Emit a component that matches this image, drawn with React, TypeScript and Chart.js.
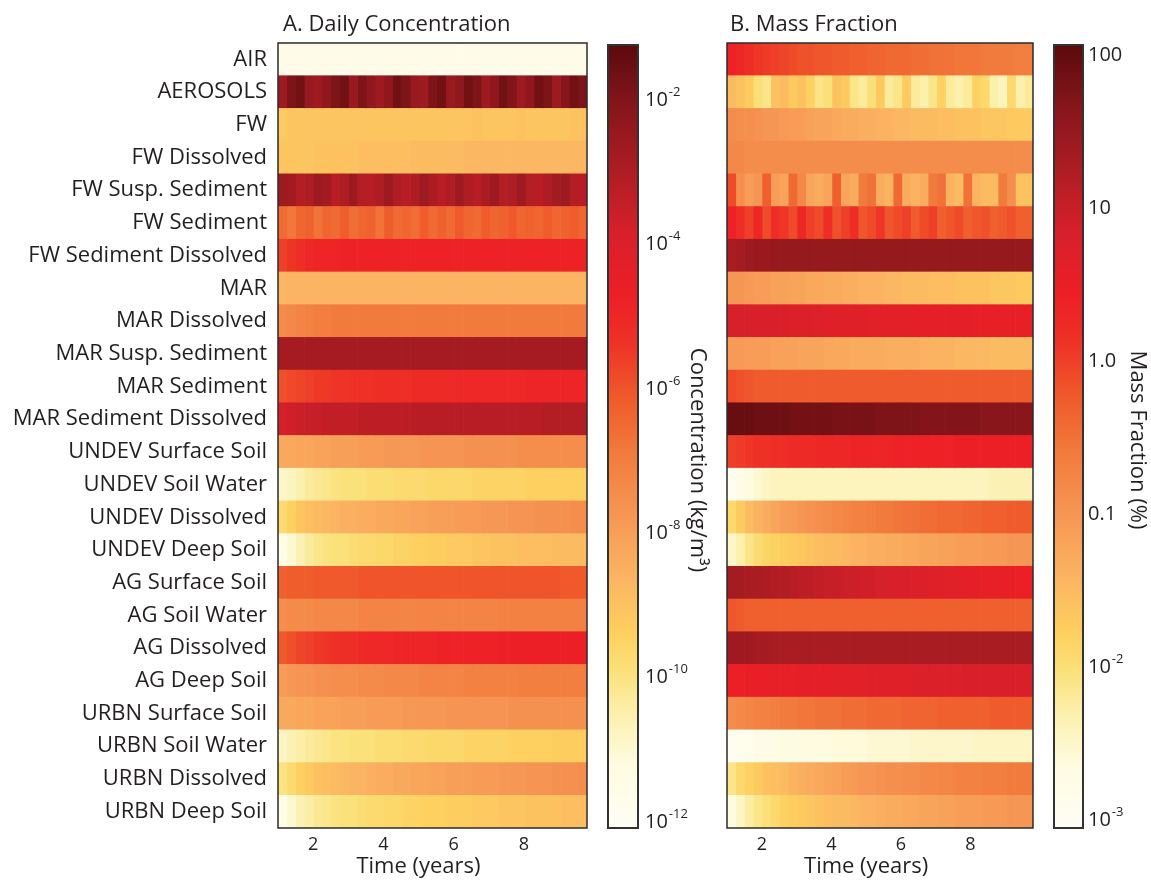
import React, { useEffect, useRef } from 'react';
import { Chart, registerables } from 'chart.js';
Chart.register(...registerables);

const FONT = "'Open Sans', 'DejaVu Sans', sans-serif";
const INK = '#231f20';

const compartments = [
  'AIR', 'AEROSOLS', 'FW', 'FW Dissolved', 'FW Susp. Sediment', 'FW Sediment',
  'FW Sediment Dissolved', 'MAR', 'MAR Dissolved', 'MAR Susp. Sediment', 'MAR Sediment',
  'MAR Sediment Dissolved', 'UNDEV Surface Soil', 'UNDEV Soil Water', 'UNDEV Dissolved',
  'UNDEV Deep Soil', 'AG Surface Soil', 'AG Soil Water', 'AG Dissolved', 'AG Deep Soil',
  'URBN Surface Soil', 'URBN Soil Water', 'URBN Dissolved', 'URBN Deep Soil',
];

const timeStart = 1.0;
const timeEnd = 9.8;
const timeTicks = [2, 4, 6, 8];

// ---- A. Daily concentration, log10(kg/m3), one value per time column ----
const concAir = [
  -11.6, -11.6, -11.6, -11.6, -11.6,
  -11.6, -11.6, -11.6, -11.6, -11.6,
  -11.6, -11.6, -11.6, -11.6, -11.6,
  -11.6, -11.6, -11.6, -11.6, -11.6,
  -11.6, -11.6, -11.6, -11.6, -11.6,
  -11.6, -11.6, -11.6, -11.6, -11.6,
  -11.6, -11.6, -11.6, -11.6, -11.6,
];
const concAerosols = [
  -2.6, -1.9, -1.7, -2.5, -2.6,
  -2.3, -1.9, -1.7, -2.5, -1.9,
  -2.3, -2.6, -2.3, -1.7, -1.9,
  -2.5, -2.6, -1.9, -1.7, -2.5,
  -2.3, -1.7, -1.9, -2.6, -2.3,
  -1.7, -2.0, -2.6, -2.3, -1.7,
  -1.9, -2.6, -2.1, -1.7, -1.9,
];
const concFw = [
  -9.2, -9.1, -9.1, -9.1, -9.1,
  -9.1, -9.1, -9.1, -9.1, -9.1,
  -9.1, -9.1, -9.1, -9.1, -9.1,
  -9.1, -9.1, -9.1, -9.1, -9.1,
  -9.1, -9.1, -9.0, -9.1, -9.1,
  -9.1, -9.1, -9.0, -9.1, -9.1,
  -9.1, -9.1, -9.1, -9.0, -9.0,
];
const concFwDissolved = [
  -9.1, -9.1, -9.1, -9.1, -9.0,
  -9.0, -9.0, -9.0, -9.0, -8.9,
  -8.9, -8.9, -8.9, -8.9, -8.9,
  -8.8, -8.8, -8.8, -8.8, -8.8,
  -8.8, -8.7, -8.7, -8.7, -8.7,
  -8.7, -8.7, -8.7, -8.7, -8.7,
  -8.7, -8.7, -8.7, -8.7, -8.7,
];
const concFwSuspSed = [
  -2.6, -2.7, -3.1, -3.0, -2.6,
  -2.7, -3.2, -3.0, -2.6, -3.1,
  -3.2, -3.0, -2.6, -3.0, -3.2,
  -3.0, -2.6, -2.9, -3.2, -3.0,
  -2.6, -3.0, -3.2, -2.9, -2.6,
  -3.1, -3.0, -2.6, -3.1, -3.2,
  -3.0, -2.7, -2.6, -3.1, -3.2,
];
const concFwSed = [
  -6.5, -6.8, -6.4, -6.3, -6.7,
  -6.4, -6.5, -6.2, -6.6, -6.4,
  -6.3, -6.7, -6.2, -6.5, -6.4,
  -6.6, -6.2, -6.5, -6.3, -6.5,
  -6.1, -6.4, -6.5, -6.2, -6.4,
  -6.3, -6.1, -6.4, -6.3, -6.4,
  -6.2, -6.4, -6.3, -6.2, -6.4,
];
const concFwSedDissolved = [
  -5.6, -5.4, -5.2, -5.0, -4.9,
  -4.9, -4.9, -4.8, -4.8, -4.8,
  -4.8, -4.8, -4.8, -4.8, -4.8,
  -4.8, -4.8, -4.8, -4.8, -4.8,
  -4.8, -4.8, -4.8, -4.8, -4.8,
  -4.8, -4.8, -4.8, -4.8, -4.8,
  -4.8, -4.8, -4.8, -4.8, -4.8,
];
const concMar = [
  -8.7, -8.6, -8.6, -8.6, -8.6,
  -8.6, -8.6, -8.6, -8.6, -8.6,
  -8.6, -8.6, -8.6, -8.6, -8.6,
  -8.6, -8.6, -8.6, -8.6, -8.6,
  -8.6, -8.6, -8.6, -8.6, -8.6,
  -8.6, -8.6, -8.6, -8.6, -8.6,
  -8.6, -8.6, -8.6, -8.6, -8.6,
];
const concMarDissolved = [
  -7.4, -7.3, -7.2, -7.1, -7.0,
  -7.0, -6.9, -6.9, -6.9, -6.9,
  -6.9, -6.9, -6.9, -6.9, -6.9,
  -6.9, -6.9, -6.9, -6.9, -6.9,
  -6.9, -6.9, -6.9, -6.9, -6.9,
  -6.9, -6.9, -6.9, -6.9, -6.9,
  -6.9, -6.9, -6.9, -6.9, -6.9,
];
const concMarSuspSed = [
  -2.8, -2.8, -2.8, -2.8, -2.8,
  -2.8, -2.8, -2.8, -2.8, -2.8,
  -2.8, -2.8, -2.8, -2.8, -2.8,
  -2.8, -2.8, -2.8, -2.8, -2.8,
  -2.8, -2.8, -2.8, -2.8, -2.8,
  -2.8, -2.8, -2.8, -2.8, -2.8,
  -2.8, -2.8, -2.8, -2.8, -2.8,
];
const concMarSed = [
  -5.9, -5.8, -5.7, -5.6, -5.5,
  -5.5, -5.4, -5.4, -5.3, -5.3,
  -5.3, -5.2, -5.2, -5.2, -5.2,
  -5.1, -5.1, -5.1, -5.1, -5.1,
  -5.0, -5.0, -5.0, -5.0, -5.0,
  -5.0, -5.0, -5.0, -4.9, -4.9,
  -4.9, -4.9, -4.9, -4.9, -4.9,
];
const concMarSedDissolved = [
  -3.8, -3.7, -3.6, -3.5, -3.5,
  -3.4, -3.4, -3.4, -3.4, -3.3,
  -3.3, -3.3, -3.3, -3.3, -3.3,
  -3.2, -3.2, -3.2, -3.2, -3.2,
  -3.2, -3.2, -3.2, -3.2, -3.2,
  -3.2, -3.2, -3.2, -3.2, -3.2,
  -3.1, -3.1, -3.1, -3.1, -3.1,
];
const concUndevSurface = [
  -8.3, -8.3, -8.2, -8.2, -8.1,
  -8.1, -8.0, -8.0, -8.0, -7.9,
  -7.9, -7.9, -7.8, -7.8, -7.8,
  -7.8, -7.7, -7.7, -7.7, -7.7,
  -7.7, -7.6, -7.6, -7.6, -7.6,
  -7.6, -7.6, -7.5, -7.5, -7.5,
  -7.5, -7.5, -7.5, -7.5, -7.5,
];
const concUndevSoilWater = [
  -10.9, -10.7, -10.5, -10.3, -10.2,
  -10.1, -10.0, -9.9, -9.9, -9.9,
  -9.8, -9.8, -9.8, -9.7, -9.7,
  -9.7, -9.7, -9.6, -9.6, -9.6,
  -9.6, -9.6, -9.5, -9.5, -9.5,
  -9.5, -9.5, -9.5, -9.4, -9.4,
  -9.4, -9.4, -9.4, -9.4, -9.4,
];
const concUndevDissolved = [
  -9.7, -9.4, -9.1, -8.9, -8.8,
  -8.7, -8.6, -8.5, -8.5, -8.4,
  -8.4, -8.3, -8.3, -8.2, -8.2,
  -8.1, -8.1, -8.0, -8.0, -8.0,
  -7.9, -7.9, -7.9, -7.8, -7.8,
  -7.8, -7.7, -7.7, -7.7, -7.6,
  -7.6, -7.6, -7.6, -7.5, -7.5,
];
const concUndevDeep = [
  -11.4, -11.0, -10.6, -10.3, -10.1,
  -10.0, -9.9, -9.9, -9.8, -9.7,
  -9.7, -9.6, -9.6, -9.5, -9.5,
  -9.4, -9.4, -9.3, -9.3, -9.2,
  -9.2, -9.2, -9.1, -9.1, -9.0,
  -9.0, -9.0, -8.9, -8.9, -8.9,
  -8.9, -8.8, -8.8, -8.8, -8.8,
];
const concAgSurface = [
  -6.3, -6.2, -6.2, -6.2, -6.1,
  -6.1, -6.1, -6.1, -6.1, -6.0,
  -6.0, -6.0, -6.0, -6.0, -6.0,
  -6.0, -6.0, -6.0, -6.0, -6.0,
  -6.0, -6.0, -6.0, -6.0, -6.0,
  -6.0, -6.0, -6.0, -6.0, -6.0,
  -6.0, -6.0, -6.1, -6.1, -6.1,
];
const concAgSoilWater = [
  -7.5, -7.4, -7.4, -7.4, -7.3,
  -7.3, -7.3, -7.3, -7.3, -7.2,
  -7.2, -7.2, -7.2, -7.2, -7.2,
  -7.2, -7.2, -7.2, -7.2, -7.2,
  -7.2, -7.2, -7.2, -7.2, -7.2,
  -7.1, -7.1, -7.1, -7.1, -7.1,
  -7.1, -7.1, -7.1, -7.1, -7.1,
];
const concAgDissolved = [
  -6.1, -5.9, -5.7, -5.6, -5.5,
  -5.4, -5.3, -5.2, -5.2, -5.1,
  -5.0, -5.0, -5.0, -4.9, -4.9,
  -4.9, -4.9, -4.9, -4.8, -4.8,
  -4.8, -4.8, -4.8, -4.8, -4.8,
  -4.7, -4.7, -4.7, -4.7, -4.7,
  -4.7, -4.7, -4.7, -4.7, -4.7,
];
const concAgDeep = [
  -7.9, -7.8, -7.7, -7.7, -7.6,
  -7.6, -7.5, -7.5, -7.5, -7.4,
  -7.4, -7.4, -7.3, -7.3, -7.3,
  -7.3, -7.2, -7.2, -7.2, -7.2,
  -7.2, -7.1, -7.1, -7.1, -7.1,
  -7.1, -7.1, -7.0, -7.0, -7.0,
  -7.0, -7.0, -7.0, -7.0, -7.0,
];
const concUrbnSurface = [
  -8.3, -8.3, -8.2, -8.2, -8.1,
  -8.1, -8.1, -8.0, -8.0, -8.0,
  -7.9, -7.9, -7.9, -7.9, -7.8,
  -7.8, -7.8, -7.8, -7.8, -7.7,
  -7.7, -7.7, -7.7, -7.7, -7.7,
  -7.7, -7.6, -7.6, -7.6, -7.6,
  -7.6, -7.6, -7.6, -7.6, -7.6,
];
const concUrbnSoilWater = [
  -10.8, -10.6, -10.4, -10.3, -10.2,
  -10.1, -10.0, -10.0, -9.9, -9.9,
  -9.9, -9.8, -9.8, -9.8, -9.7,
  -9.7, -9.7, -9.6, -9.6, -9.6,
  -9.6, -9.5, -9.5, -9.5, -9.5,
  -9.5, -9.4, -9.4, -9.4, -9.4,
  -9.4, -9.3, -9.3, -9.3, -9.3,
];
const concUrbnDissolved = [
  -10.0, -9.7, -9.4, -9.2, -9.0,
  -8.9, -8.8, -8.7, -8.6, -8.6,
  -8.5, -8.4, -8.4, -8.3, -8.3,
  -8.2, -8.2, -8.1, -8.1, -8.0,
  -8.0, -8.0, -7.9, -7.9, -7.9,
  -7.8, -7.8, -7.8, -7.7, -7.7,
  -7.7, -7.6, -7.6, -7.6, -7.5,
];
const concUrbnDeep = [
  -11.4, -11.0, -10.6, -10.4, -10.2,
  -10.1, -10.0, -9.9, -9.9, -9.8,
  -9.7, -9.7, -9.6, -9.6, -9.5,
  -9.5, -9.4, -9.4, -9.4, -9.3,
  -9.3, -9.3, -9.2, -9.2, -9.2,
  -9.1, -9.1, -9.1, -9.0, -9.0,
  -9.0, -9.0, -8.9, -8.9, -8.9,
];

// ---- B. Mass fraction, log10(%) ----
const fracAir = [
  0.4, 0.3, 0.2, 0.1, 0.05,
  0.0, -0.05, -0.1, -0.15, -0.15,
  -0.2, -0.2, -0.25, -0.25, -0.3,
  -0.3, -0.35, -0.35, -0.4, -0.4,
  -0.4, -0.45, -0.45, -0.5, -0.5,
  -0.5, -0.55, -0.55, -0.55, -0.6,
  -0.6, -0.6, -0.6, -0.65, -0.65,
];
const fracAerosols = [
  -1.5, -1.6, -1.7, -2.0, -2.1,
  -1.6, -1.5, -1.7, -1.6, -1.8,
  -2.1, -2.0, -1.6, -1.7, -2.1,
  -2.2, -2.0, -1.7, -2.2, -2.1,
  -1.7, -2.2, -2.3, -2.1, -1.8,
  -2.2, -2.3, -2.2, -1.8, -1.9,
  -2.3, -2.4, -1.9, -2.3, -2.2,
];
const fracFw = [
  -0.85, -0.9, -0.9, -0.95, -1.0,
  -1.0, -1.05, -1.1, -1.1, -1.15,
  -1.2, -1.2, -1.25, -1.3, -1.3,
  -1.35, -1.35, -1.4, -1.4, -1.45,
  -1.45, -1.5, -1.5, -1.5, -1.55,
  -1.55, -1.6, -1.6, -1.6, -1.65,
  -1.65, -1.65, -1.7, -1.7, -1.7,
];
const fracFwDissolved = [
  -0.8, -0.8, -0.85, -0.85, -0.85,
  -0.85, -0.85, -0.85, -0.85, -0.85,
  -0.85, -0.85, -0.85, -0.85, -0.85,
  -0.85, -0.85, -0.85, -0.85, -0.85,
  -0.85, -0.85, -0.85, -0.85, -0.85,
  -0.85, -0.85, -0.85, -0.85, -0.85,
  -0.85, -0.85, -0.85, -0.85, -0.85,
];
const fracFwSuspSed = [
  -0.1, -0.9, -1.1, -1.0, -0.3,
  -1.1, -1.2, -0.4, -0.8, -1.2,
  -1.3, -1.2, -0.3, -1.2, -1.3,
  -0.6, -0.5, -1.3, -1.4, -0.4,
  -1.3, -1.4, -1.3, -0.6, -0.5,
  -1.4, -1.5, -0.5, -1.4, -1.5,
  -1.5, -0.6, -0.9, -1.6, -1.6,
];
const fracFwSed = [
  0.4, 0.2, 0.0, 0.3, -0.1,
  0.2, 0.1, -0.1, 0.3, 0.0,
  -0.1, 0.2, -0.15, 0.0, 0.2,
  -0.2, -0.1, 0.1, -0.2, -0.1,
  0.0, -0.25, -0.1, 0.0, -0.3,
  -0.2, -0.1, -0.3, -0.2, -0.15,
  -0.3, -0.25, -0.15, -0.3, -0.3,
];
const fracFwSedDissolved = [
  1.3, 1.35, 1.4, 1.45, 1.45,
  1.5, 1.5, 1.5, 1.5, 1.5,
  1.5, 1.5, 1.5, 1.5, 1.5,
  1.5, 1.5, 1.5, 1.5, 1.5,
  1.5, 1.5, 1.5, 1.5, 1.5,
  1.5, 1.5, 1.5, 1.5, 1.5,
  1.5, 1.5, 1.5, 1.5, 1.5,
];
const fracMar = [
  -1.0, -1.0, -1.05, -1.1, -1.1,
  -1.15, -1.15, -1.2, -1.2, -1.25,
  -1.25, -1.3, -1.3, -1.35, -1.35,
  -1.4, -1.4, -1.4, -1.45, -1.45,
  -1.5, -1.5, -1.5, -1.55, -1.55,
  -1.55, -1.6, -1.6, -1.6, -1.6,
  -1.65, -1.65, -1.65, -1.7, -1.7,
];
const fracMarDissolved = [
  0.85, 0.85, 0.85, 0.8, 0.8,
  0.8, 0.8, 0.75, 0.75, 0.75,
  0.75, 0.7, 0.7, 0.7, 0.7,
  0.7, 0.65, 0.65, 0.65, 0.65,
  0.65, 0.6, 0.6, 0.6, 0.6,
  0.6, 0.6, 0.6, 0.55, 0.55,
  0.55, 0.55, 0.55, 0.55, 0.55,
];
const fracMarSuspSed = [
  -1.05, -1.05, -1.1, -1.1, -1.1,
  -1.15, -1.15, -1.15, -1.2, -1.2,
  -1.2, -1.25, -1.25, -1.25, -1.3,
  -1.3, -1.3, -1.3, -1.35, -1.35,
  -1.35, -1.35, -1.4, -1.4, -1.4,
  -1.4, -1.45, -1.45, -1.45, -1.45,
  -1.5, -1.5, -1.5, -1.5, -1.5,
];
const fracMarSed = [
  -0.1, -0.15, -0.2, -0.25, -0.25,
  -0.25, -0.25, -0.25, -0.25, -0.25,
  -0.25, -0.25, -0.25, -0.25, -0.25,
  -0.25, -0.25, -0.25, -0.25, -0.25,
  -0.25, -0.25, -0.25, -0.25, -0.25,
  -0.25, -0.25, -0.25, -0.25, -0.25,
  -0.25, -0.25, -0.25, -0.25, -0.25,
];
const fracMarSedDissolved = [
  1.95, 1.95, 1.95, 1.9, 1.9,
  1.9, 1.9, 1.85, 1.85, 1.85,
  1.85, 1.85, 1.8, 1.8, 1.8,
  1.8, 1.8, 1.75, 1.75, 1.75,
  1.75, 1.75, 1.7, 1.7, 1.7,
  1.7, 1.7, 1.7, 1.7, 1.65,
  1.65, 1.65, 1.65, 1.65, 1.65,
];
const fracUndevSurface = [
  0.0, 0.05, 0.1, 0.15, 0.15,
  0.2, 0.2, 0.25, 0.25, 0.25,
  0.3, 0.3, 0.3, 0.3, 0.35,
  0.35, 0.35, 0.35, 0.35, 0.4,
  0.4, 0.4, 0.4, 0.4, 0.4,
  0.4, 0.45, 0.45, 0.45, 0.45,
  0.45, 0.45, 0.45, 0.45, 0.45,
];
const fracUndevSoilWater = [
  -2.95, -2.8, -2.65, -2.55, -2.45,
  -2.4, -2.4, -2.4, -2.4, -2.4,
  -2.4, -2.4, -2.4, -2.4, -2.4,
  -2.4, -2.4, -2.4, -2.4, -2.4,
  -2.4, -2.4, -2.4, -2.4, -2.4,
  -2.4, -2.4, -2.4, -2.4, -2.4,
  -2.35, -2.35, -2.35, -2.35, -2.35,
];
const fracUndevDissolved = [
  -1.9, -1.7, -1.5, -1.4, -1.3,
  -1.2, -1.1, -1.05, -1.0, -0.95,
  -0.9, -0.85, -0.8, -0.75, -0.7,
  -0.7, -0.65, -0.6, -0.6, -0.55,
  -0.5, -0.5, -0.45, -0.45, -0.4,
  -0.4, -0.4, -0.35, -0.35, -0.3,
  -0.3, -0.3, -0.25, -0.25, -0.25,
];
const fracUndevDeep = [
  -2.5, -2.3, -2.1, -1.95, -1.85,
  -1.8, -1.75, -1.7, -1.65, -1.6,
  -1.55, -1.5, -1.5, -1.45, -1.4,
  -1.4, -1.35, -1.35, -1.3, -1.3,
  -1.25, -1.25, -1.2, -1.2, -1.15,
  -1.15, -1.1, -1.1, -1.1, -1.05,
  -1.05, -1.05, -1.0, -1.0, -1.0,
];
const fracAgSurface = [
  1.35, 1.35, 1.3, 1.3, 1.25,
  1.2, 1.2, 1.15, 1.1, 1.1,
  1.05, 1.0, 1.0, 0.95, 0.95,
  0.9, 0.9, 0.85, 0.85, 0.8,
  0.8, 0.75, 0.75, 0.7, 0.7,
  0.65, 0.65, 0.6, 0.6, 0.55,
  0.55, 0.5, 0.5, 0.45, 0.45,
];
const fracAgSoilWater = [
  -0.2, -0.25, -0.3, -0.3, -0.3,
  -0.3, -0.3, -0.3, -0.3, -0.3,
  -0.3, -0.3, -0.3, -0.3, -0.3,
  -0.3, -0.3, -0.3, -0.3, -0.3,
  -0.3, -0.3, -0.3, -0.3, -0.3,
  -0.3, -0.3, -0.3, -0.3, -0.3,
  -0.3, -0.3, -0.3, -0.3, -0.3,
];
const fracAgDissolved = [
  1.4, 1.4, 1.4, 1.35, 1.35,
  1.3, 1.3, 1.3, 1.3, 1.3,
  1.3, 1.3, 1.3, 1.3, 1.3,
  1.3, 1.3, 1.3, 1.3, 1.3,
  1.3, 1.3, 1.3, 1.3, 1.3,
  1.3, 1.3, 1.3, 1.3, 1.3,
  1.3, 1.3, 1.3, 1.3, 1.3,
];
const fracAgDeep = [
  0.45, 0.45, 0.5, 0.5, 0.5,
  0.55, 0.55, 0.55, 0.6, 0.6,
  0.6, 0.6, 0.65, 0.65, 0.65,
  0.65, 0.7, 0.7, 0.7, 0.7,
  0.7, 0.75, 0.75, 0.75, 0.75,
  0.75, 0.75, 0.8, 0.8, 0.8,
  0.8, 0.8, 0.8, 0.8, 0.8,
];
const fracUrbnSurface = [
  -0.85, -0.8, -0.75, -0.7, -0.7,
  -0.65, -0.6, -0.6, -0.55, -0.55,
  -0.5, -0.5, -0.5, -0.45, -0.45,
  -0.45, -0.4, -0.4, -0.4, -0.4,
  -0.35, -0.35, -0.35, -0.35, -0.3,
  -0.3, -0.3, -0.3, -0.3, -0.3,
  -0.25, -0.25, -0.25, -0.25, -0.25,
];
const fracUrbnSoilWater = [
  -2.95, -2.9, -2.85, -2.8, -2.75,
  -2.75, -2.7, -2.7, -2.7, -2.65,
  -2.65, -2.65, -2.6, -2.6, -2.6,
  -2.6, -2.55, -2.55, -2.55, -2.55,
  -2.55, -2.5, -2.5, -2.5, -2.5,
  -2.5, -2.5, -2.5, -2.45, -2.45,
  -2.45, -2.45, -2.45, -2.45, -2.45,
];
const fracUrbnDissolved = [
  -2.1, -1.9, -1.8, -1.7, -1.6,
  -1.55, -1.5, -1.4, -1.35, -1.3,
  -1.25, -1.2, -1.15, -1.1, -1.05,
  -1.0, -1.0, -0.95, -0.9, -0.9,
  -0.85, -0.85, -0.8, -0.8, -0.75,
  -0.75, -0.7, -0.7, -0.7, -0.65,
  -0.65, -0.65, -0.6, -0.6, -0.6,
];
const fracUrbnDeep = [
  -2.65, -2.45, -2.25, -2.1, -2.0,
  -1.9, -1.8, -1.75, -1.7, -1.65,
  -1.6, -1.55, -1.5, -1.5, -1.45,
  -1.4, -1.4, -1.35, -1.3, -1.3,
  -1.25, -1.25, -1.2, -1.2, -1.15,
  -1.15, -1.1, -1.1, -1.1, -1.05,
  -1.05, -1.05, -1.0, -1.0, -1.0,
];

const concRows = [
  concAir, concAerosols, concFw, concFwDissolved, concFwSuspSed, concFwSed,
  concFwSedDissolved, concMar, concMarDissolved, concMarSuspSed, concMarSed,
  concMarSedDissolved, concUndevSurface, concUndevSoilWater, concUndevDissolved,
  concUndevDeep, concAgSurface, concAgSoilWater, concAgDissolved, concAgDeep,
  concUrbnSurface, concUrbnSoilWater, concUrbnDissolved, concUrbnDeep,
];
const fracRows = [
  fracAir, fracAerosols, fracFw, fracFwDissolved, fracFwSuspSed, fracFwSed,
  fracFwSedDissolved, fracMar, fracMarDissolved, fracMarSuspSed, fracMarSed,
  fracMarSedDissolved, fracUndevSurface, fracUndevSoilWater, fracUndevDissolved,
  fracUndevDeep, fracAgSurface, fracAgSoilWater, fracAgDissolved, fracAgDeep,
  fracUrbnSurface, fracUrbnSoilWater, fracUrbnDissolved, fracUrbnDeep,
];

// colour scale ranges (log10) and tick labels
const concScaleMin = -12.08;
const concScaleMax = -1.24;
const concTickValues = [-12, -10, -8, -6, -4, -2];
const concTickMain = ['10', '10', '10', '10', '10', '10'];
const concTickSup = ['-12', '-10', '-8', '-6', '-4', '-2'];
const fracScaleMin = -3.05;
const fracScaleMax = 2.07;
const fracTickValues = [-3, -2, -1, 0, 1, 2];
const fracTickMain = ['10', '10', '0.1', '1.0', '10', '100'];
const fracTickSup = ['-3', '-2', '', '', '', ''];

// colormap (white -> yellow -> orange -> red -> dark red)
const cmapPos = [0, 0.08, 0.15, 0.2, 0.25, 0.32, 0.4, 0.48, 0.55, 0.62, 0.68, 0.76, 0.85, 0.93, 1];
const cmapHex = ['#fffef5', '#fefbe0', '#fcefaa', '#fbe17a', '#fdcf5f', '#fbb462', '#f69654',
  '#f17a3c', '#ef5a2b', '#ee3226', '#ed1f26', '#d7202a', '#a81c22', '#82151a', '#5a0a0c'];

function hexRgb(h: string) {
  return [parseInt(h.slice(1, 3), 16), parseInt(h.slice(3, 5), 16), parseInt(h.slice(5, 7), 16)];
}
const cmapRgb = cmapHex.map(hexRgb);

function colorAt(t: number) {
  const u = Math.max(0, Math.min(1, t));
  let i = 0;
  while (i < cmapPos.length - 2 && u > cmapPos[i + 1]) i++;
  const f = (u - cmapPos[i]) / (cmapPos[i + 1] - cmapPos[i]);
  const a = cmapRgb[i], b = cmapRgb[i + 1];
  const c = a.map((v, k) => Math.round(v + (b[k] - v) * f));
  return `rgb(${c[0]},${c[1]},${c[2]})`;
}

const framePlugin = {
  id: 'frame',
  afterDatasetsDraw(chart: any, _a: any, o: any) {
    const { ctx, chartArea: a } = chart;
    ctx.save();
    ctx.strokeStyle = o.color || '#2b2b2b';
    ctx.lineWidth = o.width || 1.5;
    ctx.strokeRect(a.left, a.top, a.right - a.left, a.bottom - a.top);
    ctx.restore();
  },
};

const panelTitlePlugin = {
  id: 'panelTitle',
  afterDraw(chart: any, _a: any, o: any) {
    const { ctx, chartArea: a } = chart;
    ctx.save();
    ctx.fillStyle = INK;
    ctx.font = `22px ${FONT}`;
    ctx.textAlign = 'left';
    ctx.textBaseline = 'alphabetic';
    ctx.fillText(o.text, a.left + o.dx, 31);
    // x-axis title, centred under the middle of the time ticks
    const xs = chart.scales.x;
    const mid = (timeTicks[0] + timeTicks[timeTicks.length - 1]) / 2;
    ctx.textAlign = 'center';
    ctx.textBaseline = 'middle';
    ctx.font = `22px ${FONT}`;
    ctx.fillText(o.xTitle, xs.getPixelForValue(mid), 867);
    ctx.restore();
  },
};

const cbTextPlugin = {
  id: 'cbText',
  afterDraw(chart: any, _a: any, o: any) {
    const { ctx, chartArea: a } = chart;
    const ys = chart.scales.y;
    ctx.save();
    ctx.fillStyle = INK;
    ctx.textAlign = 'left';
    ctx.textBaseline = 'middle';
    o.values.forEach((v: number, i: number) => {
      const py = ys.getPixelForValue(v);
      const x = a.right + o.gap;
      ctx.font = `20px ${FONT}`;
      ctx.fillText(o.main[i], x, py);
      if (o.sup[i]) {
        const w = ctx.measureText(o.main[i]).width;
        ctx.font = `13px ${FONT}`;
        ctx.fillText(o.sup[i], x + w + 1, py - 8);
      }
    });
    ctx.translate(o.titleX, o.titleY);
    ctx.rotate(Math.PI / 2);
    ctx.textAlign = 'center';
    ctx.font = `22px ${FONT}`;
    ctx.fillText(o.title, 0, 0);
    ctx.restore();
  },
};

function makeHeatmap(canvas: HTMLCanvasElement, rows: number[][], vmin: number, vmax: number,
  showLabels: boolean, title: string, padLeft: number, padRight: number, titleDx: number) {
  const n = rows[0].length;
  const dt = (timeEnd - timeStart) / n;
  const datasets = [];
  for (let c = 0; c < n; c++) {
    const t0 = timeStart + c * dt;
    const t1 = t0 + dt;
    datasets.push({
      data: rows.map(() => [t0, t1]),
      backgroundColor: rows.map((r) => colorAt((r[c] - vmin) / (vmax - vmin))),
      borderWidth: 0,
      grouped: false,
      barPercentage: 1,
      categoryPercentage: 1,
    });
  }
  return new Chart(canvas, {
    type: 'bar',
    data: { labels: compartments, datasets: datasets as any },
    options: {
      animation: false,
      responsive: false,
      indexAxis: 'y',
      layout: { padding: { left: padLeft, right: padRight, top: 43, bottom: 0 } },
      plugins: {
        legend: { display: false },
        tooltip: { enabled: false },
        frame: { color: '#2b2b2b', width: 1.5 },
        panelTitle: { text: title, dx: titleDx, xTitle: 'Time (years)' },
      } as any,
      scales: {
        x: {
          type: 'linear',
          min: timeStart,
          max: timeEnd,
          grid: { display: false, drawTicks: false },
          border: { display: false },
          ticks: { font: { family: FONT, size: 18 }, color: INK, padding: 6, maxRotation: 0 },
          afterBuildTicks: (s: any) => { s.ticks = timeTicks.map((v) => ({ value: v })); },
          afterFit: (s: any) => { s.height = 52; },
        },
        y: {
          type: 'category',
          display: showLabels,
          grid: { display: false, drawTicks: false },
          border: { display: false },
          ticks: { font: { family: FONT, size: 22 }, color: INK, padding: 11, autoSkip: false },
          afterFit: (s: any) => { s.width = showLabels ? 278 : 0; },
        },
      } as any,
    },
    plugins: [framePlugin, panelTitlePlugin],
  });
}

function makeColorbar(canvas: HTMLCanvasElement, vmin: number, vmax: number, padLeft: number,
  padRight: number, values: number[], main: string[], sup: string[], gap: number,
  title: string, titleX: number, titleY: number) {
  return new Chart(canvas, {
    type: 'bar',
    data: {
      labels: ['scale'],
      datasets: [{
        data: [[vmin, vmax]] as any,
        backgroundColor: (ctx: any) => {
          const ch = ctx.chart;
          const a = ch.chartArea;
          if (!a) return 'transparent';
          const g = ch.ctx.createLinearGradient(0, a.bottom, 0, a.top);
          cmapPos.forEach((p, i) => g.addColorStop(p, cmapHex[i]));
          return g;
        },
        borderWidth: 0,
        barPercentage: 1,
        categoryPercentage: 1,
      }],
    },
    options: {
      animation: false,
      responsive: false,
      layout: { padding: { left: padLeft, right: padRight, top: 45, bottom: 52 } },
      plugins: {
        legend: { display: false },
        tooltip: { enabled: false },
        frame: { color: '#333333', width: 2 },
        cbText: { values, main, sup, gap, title, titleX, titleY },
      } as any,
      scales: {
        x: { display: false },
        y: { display: false, min: vmin, max: vmax },
      },
    },
    plugins: [framePlugin, cbTextPlugin],
  });
}

export default function App() {
  const refA = useRef<HTMLCanvasElement>(null);
  const refCA = useRef<HTMLCanvasElement>(null);
  const refB = useRef<HTMLCanvasElement>(null);
  const refCB = useRef<HTMLCanvasElement>(null);

  useEffect(() => {
    const charts = [
      makeHeatmap(refA.current!, concRows, concScaleMin, concScaleMax, true,
        'A. Daily Concentration', 0, 13, 5),
      makeColorbar(refCA.current!, concScaleMin, concScaleMax, 8, 87,
        concTickValues, concTickMain, concTickSup, 7, 'Concentration (kg/m³)', 97, 460),
      makeHeatmap(refB.current!, fracRows, fracScaleMin, fracScaleMax, false,
        'B. Mass Fraction', 2, 12, 3),
      makeColorbar(refCB.current!, fracScaleMin, fracScaleMax, 9, 68,
        fracTickValues, fracTickMain, fracTickSup, 5, 'Mass Fraction (%)', 92, 440),
    ];
    return () => charts.forEach((c) => c.destroy());
  }, []);

  const cs = (left: number, width: number) => ({
    position: 'absolute' as const, left, top: 0, width, height: 880,
  });

  return (
    <div style={{ position: 'fixed', left: 0, top: 0, width: 1151, height: 880, background: '#fff', overflow: 'hidden' }}>
      <canvas ref={refA} width={600} height={880} style={cs(0, 600)} />
      <canvas ref={refCA} width={125} height={880} style={cs(600, 125)} />
      <canvas ref={refB} width={320} height={880} style={cs(725, 320)} />
      <canvas ref={refCB} width={106} height={880} style={cs(1045, 106)} />
    </div>
  );
}
